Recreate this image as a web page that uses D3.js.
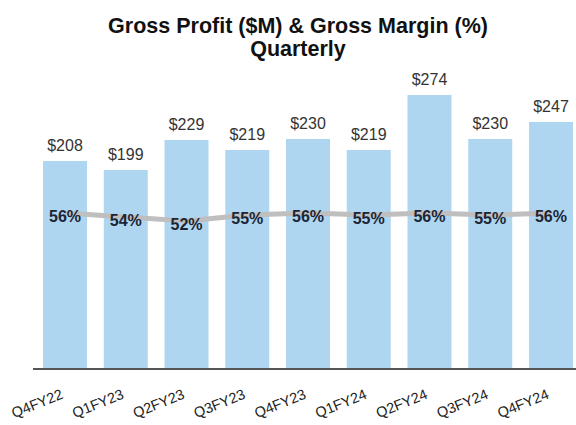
<!DOCTYPE html>
<html>
<head>
<meta charset="utf-8">
<script src="https://cdn.jsdelivr.net/npm/d3@7"></script>
<style>
  body { margin: 0; background: #fff; }
  svg { display: block; font-family: "Liberation Sans", Arial, sans-serif; }
</style>
</head>
<body>
<svg id="chart" width="576" height="425"></svg>
<script>
const quarters = ["Q4FY22", "Q1FY23", "Q2FY23", "Q3FY23", "Q4FY23", "Q1FY24", "Q2FY24", "Q3FY24", "Q4FY24"];
const grossProfit = [208, 199, 229, 219, 230, 219, 274, 230, 247];
const grossMargin = [56, 54, 52, 55, 56, 55, 56, 55, 56];
const titleLines = ["Gross Profit ($M) & Gross Margin (%)", "Quarterly"];

const svg = d3.select("#chart");

const x = d3.scaleBand()
  .domain(quarters)
  .range([33, 583])
  .paddingInner(0.276)
  .paddingOuter(0.165);

const y = d3.scaleLinear().domain([0, 300]).range([369, 69]);
const yPct = d3.scaleLinear().domain([0, 100]).range([325, 125]);

// title
titleLines.forEach((t, i) => {
  svg.append("text")
    .attr("x", 298)
    .attr("y", 33 + i * 23)
    .attr("text-anchor", "middle")
    .style("font", "bold 21.5px 'Liberation Sans', Arial, sans-serif")
    .style("fill", "#111")
    .text(t);
});

// bars
svg.selectAll("rect.bar")
  .data(grossProfit)
  .join("rect")
  .attr("class", "bar")
  .attr("x", (d, i) => x(quarters[i]))
  .attr("y", d => y(d))
  .attr("width", x.bandwidth())
  .attr("height", d => y(0) - y(d))
  .attr("fill", "#aed6f1");

// bar value labels
svg.selectAll("text.val")
  .data(grossProfit)
  .join("text")
  .attr("class", "val")
  .attr("x", (d, i) => x(quarters[i]) + x.bandwidth() / 2)
  .attr("y", d => y(d) - 10)
  .attr("text-anchor", "middle")
  .style("font", "16px 'Liberation Sans', Arial, sans-serif")
  .style("fill", "#333")
  .text(d => "$" + d);

// axis line
svg.append("line")
  .attr("x1", 33).attr("x2", 576)
  .attr("y1", y(0)).attr("y2", y(0))
  .attr("stroke", "#555")
  .attr("stroke-width", 2);

// x labels
svg.selectAll("text.xl")
  .data(quarters)
  .join("text")
  .attr("class", "xl")
  .attr("transform", d => `translate(${x(d) + x.bandwidth() / 2 - 1},398) rotate(-22)`)
  .attr("text-anchor", "end")
  .style("font", "14.5px 'Liberation Sans', Arial, sans-serif")
  .style("fill", "#222")
  .text(d => d);

// margin line
const line = d3.line()
  .x((d, i) => x(quarters[i]) + x.bandwidth() / 2)
  .y(d => yPct(d));

svg.append("path")
  .datum(grossMargin)
  .attr("d", line)
  .attr("fill", "none")
  .attr("stroke", "#bfbfbf")
  .attr("stroke-width", 5)
  .attr("stroke-linejoin", "round");

svg.selectAll("text.pct")
  .data(grossMargin)
  .join("text")
  .attr("class", "pct")
  .attr("x", (d, i) => x(quarters[i]) + x.bandwidth() / 2)
  .attr("y", d => yPct(d) + 9)
  .attr("text-anchor", "middle")
  .style("font", "bold 16px 'Liberation Sans', Arial, sans-serif")
  .style("fill", "#1c2535")
  .text(d => d + "%");
</script>
</body>
</html>
